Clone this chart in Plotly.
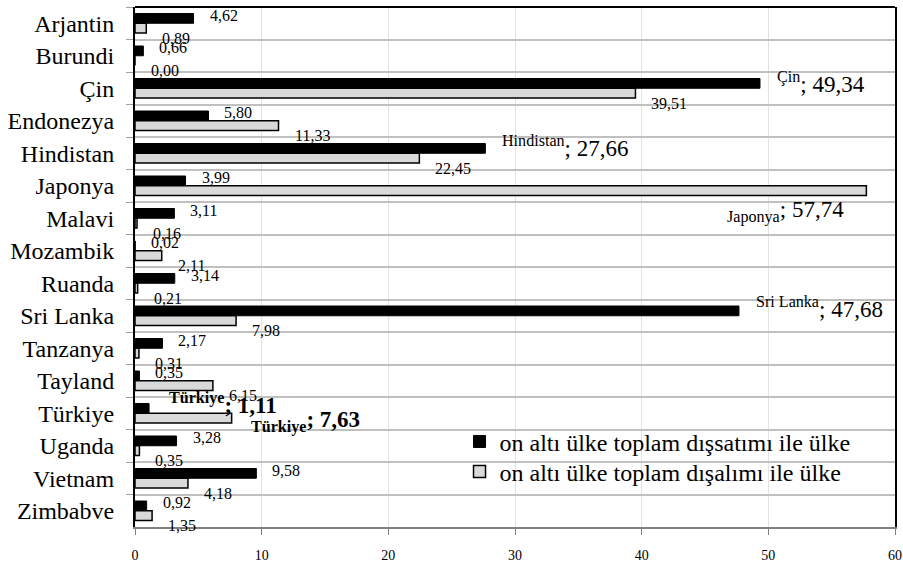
import plotly.graph_objects as go

countries = ["Arjantin", "Burundi", "Çin", "Endonezya", "Hindistan", "Japonya", "Malavi",
             "Mozambik", "Ruanda", "Sri Lanka", "Tanzanya", "Tayland", "Türkiye", "Uganda",
             "Vietnam", "Zimbabve"]
export_share = [4.62, 0.66, 49.34, 5.80, 27.66, 3.99, 3.11, 0.02, 3.14, 47.68, 2.17, 0.35,
                1.11, 3.28, 9.58, 0.92]
import_share = [0.89, 0.00, 39.51, 11.33, 22.45, 57.74, 0.16, 2.11, 0.21, 7.98, 0.31, 6.15,
                7.63, 0.35, 4.18, 1.35]
x_ticks = [0, 10, 20, 30, 40, 50, 60]
series_names = ["on altı ülke toplam dışsatımı ile ülke", "on altı ülke toplam dışalımı ile ülke"]

FONT = "Liberation Serif"


def fmt(v):
    return f"{v:.2f}".replace(".", ",")


fig = go.Figure()
fig.add_bar(y=countries, x=export_share, orientation="h", name=series_names[0],
            legend="legend",
            marker=dict(color="black", line=dict(color="black", width=1)))
fig.add_bar(y=countries, x=import_share, orientation="h", name=series_names[1],
            legend="legend2",
            marker=dict(color="#d9d9d9", line=dict(color="black", width=1.5)))

annotations = []
special_export = {"Çin": ("sup", 15, 6), "Hindistan": ("sup", 15, 7),
                  "Sri Lanka": ("sup", 15, 8)}
for c, v in zip(countries, export_share):
    if c == "Türkiye":
        annotations.append(dict(x=v, y=c, xref="x", yref="y", showarrow=False,
                                xanchor="left", xshift=18, yshift=10,
                                text=f"<b><sup>{c}</sup>; {fmt(v)}</b>",
                                font=dict(family=FONT, size=23, color="black")))
    elif c in special_export:
        tag, xs, ys = special_export[c]
        annotations.append(dict(x=v, y=c, xref="x", yref="y", showarrow=False,
                                xanchor="left", xshift=xs, yshift=ys,
                                text=f"<{tag}>{c}</{tag}>; {fmt(v)}",
                                font=dict(family=FONT, size=23, color="black")))
    else:
        annotations.append(dict(x=v, y=c, xref="x", yref="y", showarrow=False,
                                xanchor="left", xshift=14, yshift=8, text=fmt(v),
                                font=dict(family=FONT, size=16, color="black")))

for c, v in zip(countries, import_share):
    if c == "Japonya":
        annotations.append(dict(x=v, y=c, xref="x", yref="y", showarrow=False,
                                xanchor="right", xshift=-20, yshift=-26,
                                text=f"<sub>{c}</sub>; {fmt(v)}",
                                font=dict(family=FONT, size=23, color="black")))
    elif c == "Türkiye":
        annotations.append(dict(x=v, y=c, xref="x", yref="y", showarrow=False,
                                xanchor="left", xshift=17, yshift=-8,
                                text=f"<b><sub>{c}</sub>; {fmt(v)}</b>",
                                font=dict(family=FONT, size=23, color="black")))
    else:
        annotations.append(dict(x=v, y=c, xref="x", yref="y", showarrow=False,
                                xanchor="left", xshift=14, yshift=-15, text=fmt(v),
                                font=dict(family=FONT, size=16, color="black")))

legend_common = dict(xanchor="left", yanchor="top", bgcolor="rgba(0,0,0,0)",
                     font=dict(family=FONT, size=24, color="black"))
fig.update_layout(
    width=903, height=564,
    barmode="group", bargap=0.4, bargroupgap=0,
    plot_bgcolor="white", paper_bgcolor="white",
    margin=dict(l=135, r=8, t=7, b=37, autoexpand=False),
    font=dict(family=FONT, color="black"),
    annotations=annotations,
    showlegend=True,
    legend=dict(x=0.427, y=0.207, **legend_common),
    legend2=dict(x=0.427, y=0.149, **legend_common),
    shapes=[dict(type="line", xref="paper", yref="paper", x0=0, x1=1, y0=1, y1=1,
                 line=dict(color="black", width=2))],
)
fig.update_xaxes(range=[0, 60], tickvals=x_ticks, ticktext=[str(t) for t in x_ticks],
                 ticks="outside", ticklen=6, tickcolor="#808080", ticklabelstandoff=8,
                 automargin=False,
                 tickfont=dict(family=FONT, size=14, color="black"),
                 showgrid=True, gridcolor="#e3e3e3", gridwidth=1,
                 showline=True, linecolor="#808080", linewidth=2, zeroline=False)
fig.update_yaxes(type="category", range=[15.5, -0.5], tickson="boundaries",
                 ticks="outside", ticklen=7, tickcolor="#a0a0a0", ticklabelstandoff=14,
                 automargin=False,
                 tickfont=dict(family=FONT, size=24, color="black"),
                 showgrid=True, gridcolor="#c0c0c0", gridwidth=1.5,
                 showline=True, linecolor="black", linewidth=2, mirror=True)

fig.write_html("out.html", config={"displayModeBar": False},
               post_script="document.body.style.margin='0';")
